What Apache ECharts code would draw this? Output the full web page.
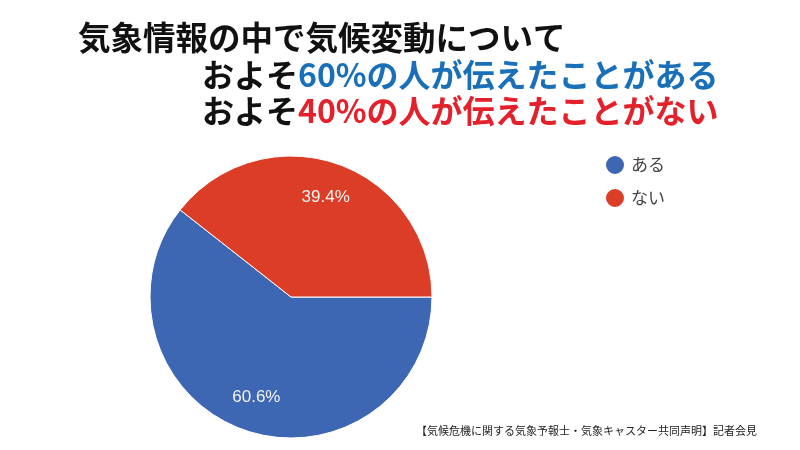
<!DOCTYPE html>
<html>
<head>
<meta charset="utf-8">
<script src="https://cdn.jsdelivr.net/npm/echarts@6/dist/echarts.min.js"></script>
<style>
  html, body { margin: 0; padding: 0; background: #fff; }
  #chart { width: 800px; height: 450px; }
</style>
</head>
<body>
<div id="chart"></div>
<script>
var categories = ['ある', 'ない'];
var values = [60.6, 39.4];
var colors = ['#3d66b3', '#db3d27'];

var titleLine1 = '気象情報の中で気候変動について';
var titleLine2 = ['およそ', '60%の人が伝えたことがある'];
var titleLine3 = ['およそ', '40%の人が伝えたことがない'];
var footnote = '【気候危機に関する気象予報士・気象キャスター共同声明】記者会見';

var cjk = '"Noto Sans CJK JP", sans-serif';

var pieData = categories.map(function (name, i) {
    return { name: name, value: values[i], itemStyle: { color: colors[i] } };
});

var chart = echarts.init(document.getElementById('chart'));
chart.setOption({
    backgroundColor: '#fff',
    animation: false,
    title: [
        {
            text: titleLine1,
            left: 78, top: 20, padding: 0,
            textStyle: { fontFamily: cjk, fontSize: 32.5, fontWeight: 'bold', color: '#111', lineHeight: 36 }
        },
        {
            text: '{k|' + titleLine2[0] + '}{b|' + titleLine2[1] + '}',
            left: 202, top: 57, padding: 0,
            textStyle: {
                rich: {
                    k: { fontFamily: cjk, fontSize: 32, fontWeight: 'bold', color: '#111', lineHeight: 36 },
                    b: { fontFamily: cjk, fontSize: 32, fontWeight: 'bold', color: '#1a70b8', lineHeight: 36 }
                }
            }
        },
        {
            text: '{k|' + titleLine3[0] + '}{r|' + titleLine3[1] + '}',
            left: 202, top: 93, padding: 0,
            textStyle: {
                rich: {
                    k: { fontFamily: cjk, fontSize: 32, fontWeight: 'bold', color: '#111', lineHeight: 36 },
                    r: { fontFamily: cjk, fontSize: 32, fontWeight: 'bold', color: '#e4202a', lineHeight: 36 }
                }
            }
        },
        {
            text: footnote,
            left: 416, top: 425, padding: 0,
            textStyle: { fontFamily: cjk, fontSize: 11, fontWeight: 'normal', color: '#222' }
        }
    ],
    legend: {
        orient: 'vertical',
        left: 604, top: 154,
        padding: 0,
        icon: 'circle',
        itemWidth: 20, itemHeight: 20,
        itemGap: 11,
        data: categories,
        textStyle: { fontFamily: cjk, fontSize: 17, color: '#444', padding: [0, 0, 0, 1] }
    },
    series: [
        {
            type: 'pie',
            center: [291, 297],
            radius: [0, 141],
            startAngle: 0,
            clockwise: true,
            silent: true,
            label: { show: false },
            labelLine: { show: false },
            itemStyle: { borderColor: '#fff', borderWidth: 1 },
            data: pieData
        },
        {
            // transparent copy, only to place the percentage labels further out
            type: 'pie',
            center: [291, 297],
            radius: [0, 206],
            startAngle: 0,
            clockwise: true,
            silent: true,
            z: 3,
            itemStyle: { color: 'rgba(0,0,0,0)', borderWidth: 0 },
            label: {
                show: true,
                position: 'inside',
                formatter: '{d}%',
                fontFamily: '"Liberation Sans", Arial, sans-serif',
                fontSize: 17,
                color: '#f4f4f4'
            },
            labelLine: { show: false },
            data: categories.map(function (name, i) {
                return { name: name, value: values[i] };
            })
        }
    ]
});
</script>
</body>
</html>
